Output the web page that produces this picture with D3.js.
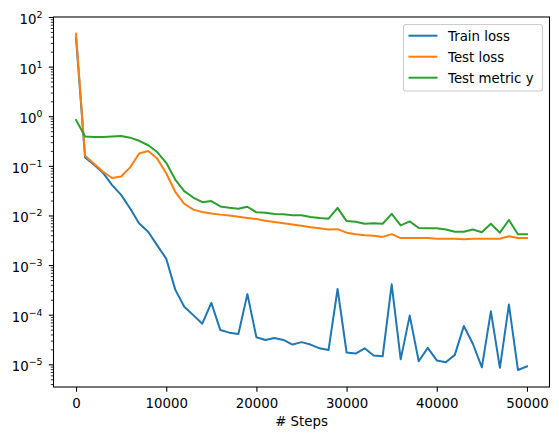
<!DOCTYPE html>
<html>
<head>
<meta charset="utf-8">
<script src="https://cdn.jsdelivr.net/npm/d3@7"></script>
<style>
  body { margin: 0; background: #fff; }
  svg { display: block; font-family: "DejaVu Sans", sans-serif; }
</style>
</head>
<body>
<div id="chart"></div>
<script>
// Steps logged every 1000 iterations
const steps = d3.range(0, 50001, 1000);

const trainLoss = [38, 0.148, 0.105, 0.072, 0.041, 0.026, 0.0138, 0.0069, 0.0047, 0.0025, 0.00135,
  3.2e-4, 1.45e-4, 9.8e-5, 6.6e-5, 1.73e-4, 4.9e-5, 4.35e-5, 4.1e-5, 2.6e-4, 3.5e-5,
  3.1e-5, 3.4e-5, 3.1e-5, 2.5e-5, 2.8e-5, 2.5e-5, 2.1e-5, 1.95e-5, 3.3e-4, 1.73e-5,
  1.65e-5, 2.1e-5, 1.5e-5, 1.45e-5, 4.1e-4, 1.26e-5, 9.6e-5, 1.15e-5, 2.15e-5, 1.2e-5,
  1.1e-5, 1.55e-5, 5.9e-5, 2.6e-5, 8.7e-6, 1.17e-4, 8.5e-6, 1.6e-4, 7.7e-6, 9.1e-6];

const testLoss = [46, 0.16, 0.11, 0.076, 0.057, 0.061, 0.093, 0.177, 0.20, 0.14, 0.071,
  0.030, 0.0172, 0.0131, 0.0117, 0.011, 0.0104, 0.0100, 0.0094, 0.0089, 0.0085,
  0.0078, 0.0074, 0.0070, 0.0066, 0.0062, 0.0058, 0.0055, 0.0052, 0.0053, 0.0045,
  0.0042, 0.0040, 0.0039, 0.0037, 0.0042, 0.0035, 0.0035, 0.0035, 0.0035, 0.0034,
  0.0034, 0.0034, 0.0033, 0.0034, 0.0034, 0.0034, 0.0034, 0.0038, 0.0035, 0.0035];

const testMetric = [0.84, 0.39, 0.38, 0.38, 0.39, 0.40, 0.37, 0.32, 0.26, 0.19, 0.115,
  0.053, 0.031, 0.023, 0.0185, 0.0195, 0.0152, 0.0143, 0.0137, 0.015, 0.0116,
  0.0113, 0.0107, 0.0106, 0.0101, 0.0101, 0.0093, 0.0089, 0.0086, 0.0142, 0.0077,
  0.0075, 0.0068, 0.0070, 0.0068, 0.0108, 0.0063, 0.0076, 0.0056, 0.0055, 0.0055,
  0.0052, 0.0047, 0.0047, 0.0052, 0.0046, 0.0068, 0.0045, 0.0081, 0.0042, 0.0042];

const seriesNames = ["Train loss", "Test loss", "Test metric y"];
const xTicks = [0, 10000, 20000, 30000, 40000, 50000];
const yExponents = [-5, -4, -3, -2, -1, 0, 1, 2];

const colors = ["#1f77b4", "#ff7f0e", "#2ca02c"];
const width = 559, height = 440;
const margin = {left: 53.5, right: 549.5, top: 17, bottom: 387};

const svg = d3.select("#chart").append("svg")
  .attr("width", width)
  .attr("height", height);

const x = d3.scaleLinear().domain([-2500, 52500]).range([margin.left, margin.right]);
const y = d3.scaleLog().domain([Math.pow(10, -5.457), 100]).range([margin.bottom, margin.top]);

// Minor ticks on the log axis
const minor = [];
for (let e = -6; e <= 1; e++) {
  for (let k = 2; k <= 9; k++) {
    const v = k * Math.pow(10, e);
    if (v >= y.domain()[0] && v <= y.domain()[1]) minor.push(v);
  }
}

// X axis
const xAxis = svg.append("g")
  .attr("transform", `translate(0,${margin.bottom})`)
  .call(d3.axisBottom(x).tickValues(xTicks).tickFormat(d3.format("d")).tickSize(4.7).tickSizeOuter(0));
xAxis.select(".domain").remove();
xAxis.selectAll("line").attr("stroke", "#000").attr("stroke-width", 1.07);
xAxis.selectAll("text")
  .attr("y", 20.5).attr("dy", null)
  .attr("fill", "#000")
  .style("font-size", "13.33px")
  .style("font-family", "DejaVu Sans");

// Y axis minor ticks
const yMinor = svg.append("g")
  .attr("transform", `translate(${margin.left},0)`)
  .call(d3.axisLeft(y).tickValues(minor).tickFormat("").tickSize(2.7).tickSizeOuter(0));
yMinor.select(".domain").remove();
yMinor.selectAll("line").attr("stroke", "#000").attr("stroke-width", 0.8);

// Y axis major ticks
const yAxis = svg.append("g")
  .attr("transform", `translate(${margin.left},0)`)
  .call(d3.axisLeft(y).tickValues(yExponents.map(e => Math.pow(10, e))).tickFormat("").tickSize(4.7).tickSizeOuter(0));
yAxis.select(".domain").remove();
yAxis.selectAll("line").attr("stroke", "#000").attr("stroke-width", 1.07);

// Y tick labels as 10^e with superscripts
yExponents.forEach(e => {
  const t = svg.append("text")
    .attr("x", margin.left - 11)
    .attr("y", y(Math.pow(10, e)) + 7)
    .attr("text-anchor", "end")
    .attr("fill", "#000")
    .style("font-size", "13.33px");
  t.append("tspan").text("10");
  t.append("tspan")
    .attr("dy", -6)
    .style("font-size", "9.33px")
    .text(e < 0 ? "\u2212" + Math.abs(e) : String(e));
});

// Lines
const line = d3.line()
  .x((d, i) => x(steps[i]))
  .y(d => y(d));

const plot = svg.append("g");
plot.append("defs").append("clipPath").attr("id", "clip")
  .append("rect").attr("x", margin.left).attr("y", margin.top)
  .attr("width", margin.right - margin.left).attr("height", margin.bottom - margin.top);

[trainLoss, testLoss, testMetric].forEach((data, i) => {
  plot.append("path")
    .datum(data)
    .attr("clip-path", "url(#clip)")
    .attr("fill", "none")
    .attr("stroke", colors[i])
    .attr("stroke-width", 2)
    .attr("stroke-linejoin", "round")
    .attr("stroke-linecap", "square")
    .attr("d", line);
});

// Frame
svg.append("rect")
  .attr("x", margin.left).attr("y", margin.top)
  .attr("width", margin.right - margin.left).attr("height", margin.bottom - margin.top)
  .attr("fill", "none")
  .attr("stroke", "#000")
  .attr("stroke-width", 1.07);

// X label
svg.append("text")
  .attr("x", (margin.left + margin.right) / 2)
  .attr("y", 426)
  .attr("text-anchor", "middle")
  .style("font-size", "13.33px")
  .text("# Steps");

// Legend
const legend = svg.append("g");
legend.append("rect")
  .attr("x", 403.5).attr("y", 24.5)
  .attr("width", 139).attr("height", 66.5)
  .attr("rx", 2.5)
  .attr("fill", "#fff").attr("fill-opacity", 0.8)
  .attr("stroke", "#cccccc").attr("stroke-width", 1.07);

seriesNames.forEach((name, i) => {
  const cy = 35.7 + i * 21;
  legend.append("line")
    .attr("x1", 408.5).attr("x2", 437.5)
    .attr("y1", cy).attr("y2", cy)
    .attr("stroke", colors[i]).attr("stroke-width", 2);
  legend.append("text")
    .attr("x", 448)
    .attr("y", cy + 4.8)
    .style("font-size", "13.33px")
    .text(name);
});
</script>
</body>
</html>
